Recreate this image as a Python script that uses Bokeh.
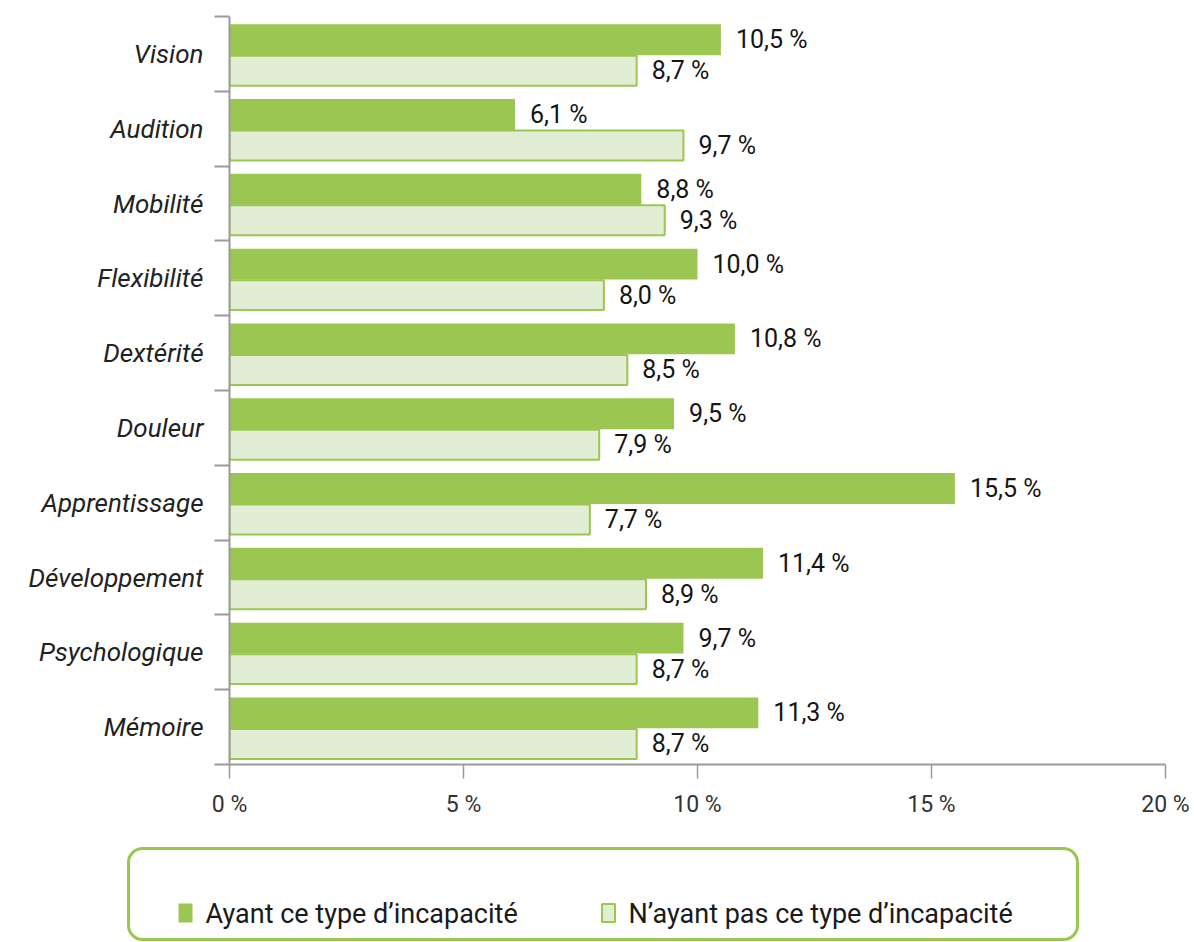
from bokeh.plotting import figure
from bokeh.layouts import column, row
from bokeh.models import ColumnDataSource, Range1d, FixedTicker, LabelSet, Quad
from bokeh.core.properties import value
from bokeh.embed import file_html
from bokeh.resources import INLINE

categories = ["Vision", "Audition", "Mobilité", "Flexibilité", "Dextérité", "Douleur",
              "Apprentissage", "Développement", "Psychologique", "Mémoire"]
avec = [10.5, 6.1, 8.8, 10.0, 10.8, 9.5, 15.5, 11.4, 9.7, 11.3]
sans = [8.7, 9.7, 9.3, 8.0, 8.5, 7.9, 7.7, 8.9, 8.7, 8.7]
x_ticks = [0, 5, 10, 15, 20]
x_tick_labels = ["0 %", "5 %", "10 %", "15 %", "20 %"]
series_names = ["Ayant ce type d’incapacité", "N’ayant pas ce type d’incapacité"]

DARK = "#9BC651"
LIGHT = "#E1EED3"
GREY = "#9a9a9a"
FONT = "Roboto"

n = len(categories)
centers = [n - 0.5 - i for i in range(n)]


def fmt(v):
    return f"{v:.1f}".replace(".", ",") + " %"


src_a = ColumnDataSource(dict(y=[c + 0.19 for c in centers], x=avec, lab=[fmt(v) for v in avec]))
src_s = ColumnDataSource(dict(y=[c - 0.225 for c in centers], x=sans, lab=[fmt(v) for v in sans]))

p = figure(width=1192, height=840, output_backend="svg", toolbar_location=None,
           x_range=Range1d(0, 20), y_range=Range1d(0, n),
           min_border_left=229, min_border_right=27, min_border_top=16, min_border_bottom=76)
p.outline_line_color = None
p.xgrid.visible = False
p.ygrid.visible = False

p.hbar(y="y", left=0, right="x", height=0.413, source=src_a,
       fill_color=DARK, line_color=None)
p.hbar(y="y", left=0, right="x", height=0.40, source=src_s,
       fill_color=LIGHT, line_color=DARK, line_width=2)

for src in (src_a, src_s):
    p.add_layout(LabelSet(x="x", y="y", text="lab", source=src, x_offset=15,
                          text_baseline="middle", text_align="left",
                          text_font=value(FONT), text_font_size="25px", text_color="#151515"))

# x axis
xa = p.xaxis[0]
xa.ticker = FixedTicker(ticks=x_ticks)
xa.major_label_overrides = {t: l for t, l in zip(x_ticks, x_tick_labels)}
xa.axis_line_color = GREY
xa.axis_line_width = 2
xa.major_tick_line_color = GREY
xa.major_tick_line_width = 1.5
xa.major_tick_out = 14
xa.major_tick_in = 0
xa.minor_tick_line_color = None
xa.major_label_standoff = 12
xa.major_label_text_font = FONT
xa.major_label_text_font_size = "23px"
xa.major_label_text_color = "#333333"

# y axis
ya = p.yaxis[0]
ya.ticker = FixedTicker(ticks=centers, minor_ticks=list(range(0, n + 1)))
ya.major_label_overrides = {c: cat for c, cat in zip(centers, categories)}
ya.axis_line_color = GREY
ya.axis_line_width = 2
ya.major_tick_line_color = None
ya.major_tick_out = 0
ya.major_tick_in = 0
ya.minor_tick_line_color = GREY
ya.minor_tick_line_width = 2
ya.minor_tick_out = 15
ya.minor_tick_in = 0
ya.major_label_standoff = 11
ya.major_label_text_font = FONT
ya.major_label_text_font_style = "italic"
ya.major_label_text_font_size = "26px"
ya.major_label_text_color = "#222222"

# legend panel (pixel coordinates, y downward)
p2 = figure(width=1192, height=102, output_backend="svg", toolbar_location=None,
            x_range=Range1d(0, 1192), y_range=Range1d(102, 0),
            min_border_left=0, min_border_right=0, min_border_top=0, min_border_bottom=0)
p2.outline_line_color = None
p2.xgrid.visible = False
p2.ygrid.visible = False
p2.xaxis.visible = False
p2.yaxis.visible = False

box_kw = dict(left=[128], right=[1077], top=[8], bottom=[99],
              fill_color="white", line_color=DARK, line_width=3)
if "border_radius" in Quad.properties():
    box_kw["border_radius"] = 14
p2.quad(**box_kw)
p2.rect(x=[185], y=[72.5], width=14, height=19, fill_color=DARK, line_color=None)
p2.rect(x=[608], y=[72.5], width=13, height=18, fill_color=LIGHT, line_color=DARK, line_width=2)
p2.text(x=[205, 628], y=[73, 73], text=series_names, text_baseline="middle", text_align="left",
        text_font=value(FONT), text_font_size="27px", text_color="#1a1a1a")

open("out.html", "w").write(file_html(column(p, row(p2), spacing=0), INLINE))
